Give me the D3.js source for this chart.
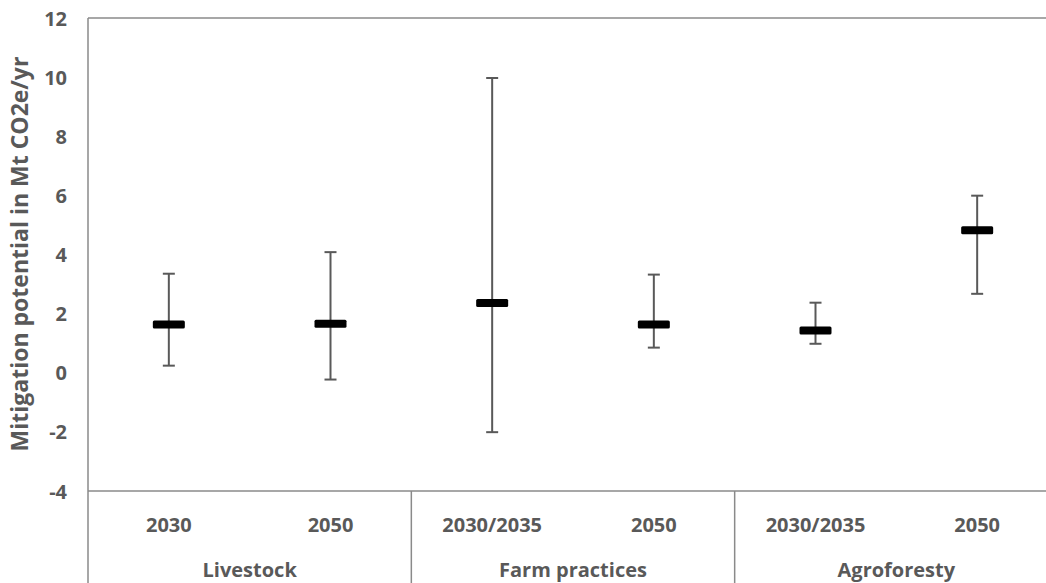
<!DOCTYPE html>
<html><head><meta charset="utf-8">
<script src="https://cdn.jsdelivr.net/npm/d3@7"></script>
<style>body{margin:0;background:#fff}svg{display:block}text{font-family:"Open Sans",sans-serif;font-weight:bold;fill:#595959}</style>
</head><body><svg id="c" width="1046" height="583"></svg>
<script>
const groups = ["Livestock","Farm practices","Agroforesty"];
const categories = ["2030","2050","2030/2035","2050","2030/2035","2050"];
const categoryGroup = [0,0,1,1,2,2];
const meanValues = [1.63,1.66,2.36,1.63,1.43,4.82];
const upperValues = [3.35,4.08,9.97,3.32,2.37,5.99];
const lowerValues = [0.24,-0.23,-2.01,0.85,0.98,2.67];
const yTicks = [-4,-2,0,2,4,6,8,10,12];

(function(){
const svg = d3.select("#c");
const mLeft = 88, mTop = 18, mBottom = 491, mRight = 1058, H = 583;
const y = d3.scaleLinear().domain([-4,12]).range([mBottom, mTop]);
const x = d3.scaleBand().domain(d3.range(categories.length)).range([mLeft, mRight]).padding(0);
const gx = d3.scaleBand().domain(d3.range(groups.length)).range([mLeft, mRight]);
const axisCol = "#8a8a8a";
const fs = "20px";

svg.append("line").attr("x1",mLeft).attr("x2",mRight).attr("y1",y(12)).attr("y2",y(12)).attr("stroke",axisCol).attr("stroke-width",1.5);
svg.append("line").attr("x1",mLeft).attr("x2",mRight).attr("y1",y(-4)).attr("y2",y(-4)).attr("stroke",axisCol).attr("stroke-width",1.5);
svg.append("line").attr("x1",mLeft).attr("x2",mLeft).attr("y1",mTop).attr("y2",H).attr("stroke",axisCol).attr("stroke-width",1.5);
groups.forEach((g,i)=>{ if(i>0){
  const p = gx(i);
  svg.append("line").attr("x1",p).attr("x2",p).attr("y1",mBottom).attr("y2",H).attr("stroke",axisCol).attr("stroke-width",1.5);
}});

const yAxis = d3.axisLeft(y).tickValues(yTicks).tickSize(0).tickPadding(21).tickFormat(d=>String(d));
const ya = svg.append("g").attr("transform",`translate(${mLeft},0)`).call(yAxis);
ya.select(".domain").remove();
ya.selectAll("text").style("font-size",fs).style("font-family","'Open Sans',sans-serif").style("font-weight","bold").attr("fill","#595959").attr("dy","0.35em");

const xAxis = d3.axisBottom(x).tickSize(0).tickPadding(41).tickFormat(i=>categories[i]);
const xa = svg.append("g").attr("transform",`translate(0,${mBottom})`).call(xAxis);
xa.select(".domain").remove();
xa.selectAll("text").attr("dy",0).style("font-size",fs).style("font-family","'Open Sans',sans-serif").style("font-weight","bold").attr("fill","#595959");

svg.selectAll(".glab").data(groups).join("text").attr("class","glab")
  .attr("x",(d,i)=>gx(i)+gx.bandwidth()/2).attr("y",577).attr("text-anchor","middle")
  .style("font-size",fs).text(d=>d);

svg.append("text").attr("transform","translate(28,254) rotate(-90)").attr("text-anchor","middle")
  .style("font-size","23px").text("Mitigation potential in Mt CO2e/yr");

const eb = svg.append("g").attr("stroke","#595959").attr("stroke-width",2);
categories.forEach((c,i)=>{
  const cx = x(i)+x.bandwidth()/2;
  eb.append("line").attr("x1",cx).attr("x2",cx).attr("y1",y(upperValues[i])).attr("y2",y(lowerValues[i]));
  eb.append("line").attr("x1",cx-6).attr("x2",cx+6).attr("y1",y(upperValues[i])).attr("y2",y(upperValues[i]));
  eb.append("line").attr("x1",cx-6).attr("x2",cx+6).attr("y1",y(lowerValues[i])).attr("y2",y(lowerValues[i]));
});
svg.selectAll(".mk").data(meanValues).join("rect").attr("class","mk")
  .attr("x",(d,i)=>x(i)+x.bandwidth()/2-16).attr("y",d=>y(d)-4)
  .attr("width",32).attr("height",8).attr("rx",1.5).attr("fill","#000");
})();
</script></body></html>
